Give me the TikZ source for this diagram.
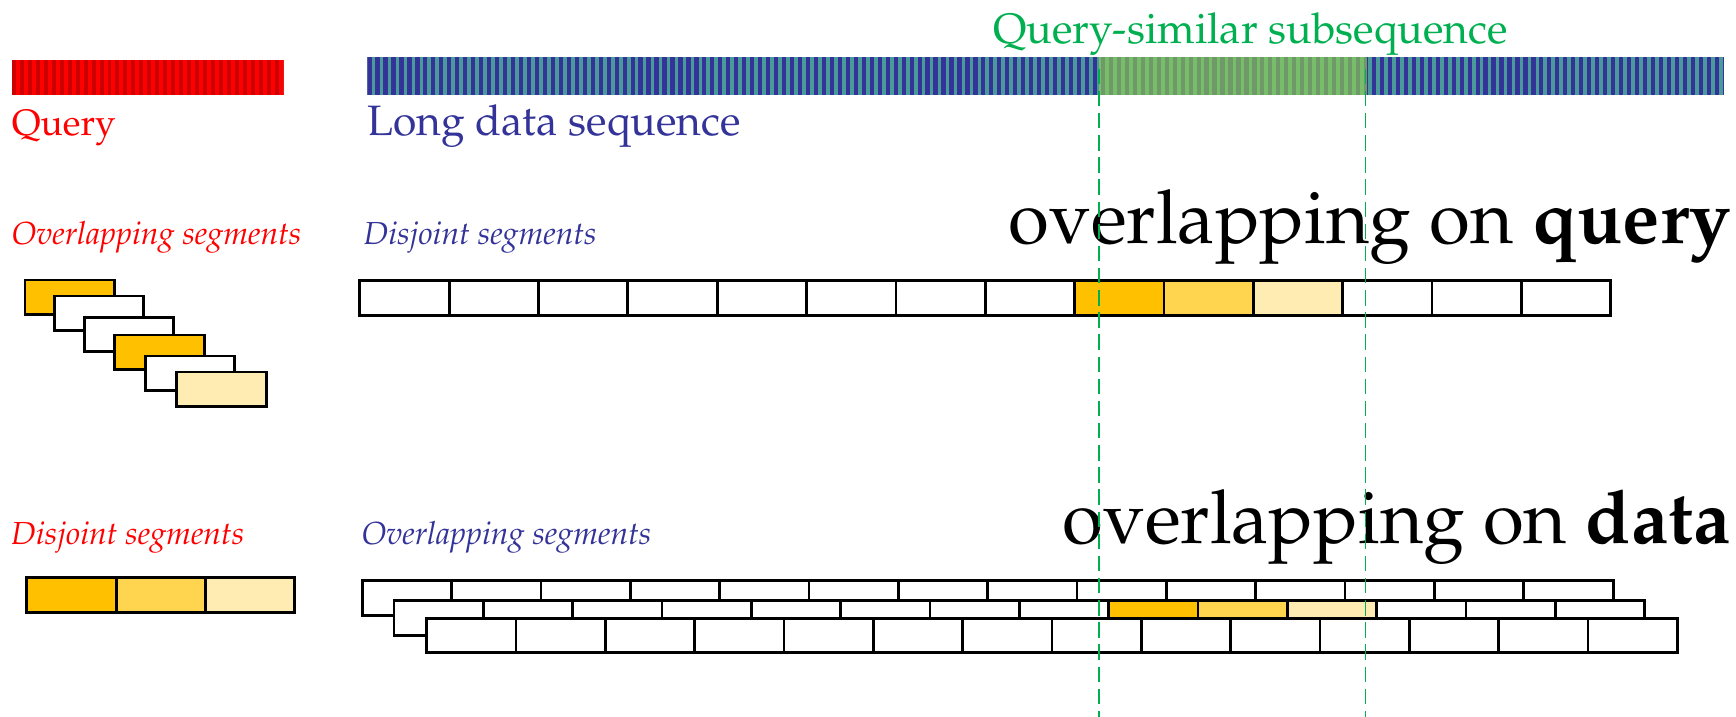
\documentclass[tikz,border=0pt]{standalone}
\usepackage[T1]{fontenc}
\usepackage{mathpazo}
\definecolor{qred}{HTML}{FF0000}
\definecolor{qdark}{HTML}{CC0000}
\definecolor{dblue}{HTML}{333399}
\definecolor{dteal}{HTML}{4A9A9A}
\definecolor{hgreen}{HTML}{92D050}
\definecolor{sgreen}{HTML}{00B050}
\definecolor{gold}{HTML}{FFC000}
\definecolor{goldmid}{HTML}{FFD54F}
\definecolor{goldlight}{HTML}{FFECB3}
\newcommand{\bigfnt}{\fontsize{33.6}{40}\selectfont}
\newcommand{\medfnt}{\fontsize{19.2}{23}\selectfont}
\newcommand{\qryfnt}{\fontsize{16.6}{20}\selectfont}
\newcommand{\smallitfnt}{\fontsize{14.4}{17}\selectfont\itshape}
\tikzset{
  segbox/.style={draw=black, line width=1.25pt, fill=white},
  label/.style={inner sep=0pt, outer sep=0pt},
  guide/.style={draw=sgreen, line width=0.8pt, dash pattern=on 7pt off 3pt}
}
\begin{document}
\begin{tikzpicture}[x=0.5pt, y=-0.5pt]
\useasboundingbox[fill=white] (0,0) rectangle (1568,647.6);

% striped query bar
\begin{scope}
  \clip (10.7,54.2) rectangle (256.2,85.8);
  \fill[qred] (10.7,54.2) rectangle (256.2,85.8);
  \foreach \i in {0,...,34} \fill[qdark] ({10.7+7.2*\i},54.2) rectangle ++(3.6,31.6);
\end{scope}

% striped long data bar
\begin{scope}
  \clip (331.9,51.2) rectangle (1557,85.8);
  \fill[dteal] (331.9,51.2) rectangle (1557,85.8);
  \foreach \i in {0,...,170} \fill[dblue] ({331.9+7.2*\i},51.2) rectangle ++(3.8,34.6);
\end{scope}

% highlighted similar part
\fill[hgreen, fill opacity=0.65] (992.4,51.2) rectangle (1235,85.8);

% labels
\node[label, anchor=base west, text=qred, font=\qryfnt] (query) at (10.7,122) {Query};
\node[label, anchor=base west, text=dblue, font=\medfnt] (longseq) at (332,122) {Long data sequence};
\node[label, anchor=base west, text=sgreen, font=\medfnt] (simlabel) at (897,39.1) {Query-similar subsequence};
\node[label, anchor=base west, text=qred, font=\smallitfnt] (qover) at (10.5,221) {Overlapping segments};
\node[label, anchor=base west, text=dblue, font=\smallitfnt] (ddisj) at (328.4,221) {Disjoint segments};
\node[label, anchor=base east, font=\bigfnt] (title1) at (1563,219.7) {overlapping on \textbf{query}};
\node[label, anchor=base west, text=qred, font=\smallitfnt] (qdisj) at (10.1,492) {Disjoint segments};
\node[label, anchor=base west, text=dblue, font=\smallitfnt] (dover) at (326.6,492) {Overlapping segments};
\node[label, anchor=base east, font=\bigfnt] (title2) at (1563,490.8) {overlapping on \textbf{data}};

% overlapping query segments (staircase)
\foreach \x/\y/\c in {22.5/253/gold, 49/267.4/white, 76/286.6/white, 103.7/302.6/gold, 131.4/321.6/white, 159.7/336/goldlight}
  \draw[segbox, fill=\c] (\x,\y) rectangle ++(80.7,31);

% disjoint data segments
\foreach \k in {0,...,13} {
  \pgfmathsetmacro{\xx}{325+80.7*\k}
  \ifnum\k=8 \def\cc{gold}\else\ifnum\k=9 \def\cc{goldmid}\else\ifnum\k=10 \def\cc{goldlight}\else\def\cc{white}\fi\fi\fi
  \draw[segbox, fill=\cc] (\xx,253.5) rectangle ++(80.7,31.5);
}

% disjoint query segments
\foreach \k/\c in {0/gold, 1/goldmid, 2/goldlight}
  \draw[segbox, fill=\c] ({24.2+80.7*\k},521.8) rectangle ++(80.7,31.2);

% overlapping data segments, three shifted rows
\foreach \k in {0,...,13}
  \draw[segbox] ({327.2+80.7*\k},524.5) rectangle ++(80.7,31.3);
\foreach \k in {0,...,13} {
  \ifnum\k=8 \def\cc{gold}\else\ifnum\k=9 \def\cc{goldmid}\else\ifnum\k=10 \def\cc{goldlight}\else\def\cc{white}\fi\fi\fi
  \draw[segbox, fill=\cc] ({355.8+80.7*\k},542.6) rectangle ++(80.7,31.3);
}
\foreach \k in {0,...,13}
  \draw[segbox] ({385.3+80.7*\k},558.9) rectangle ++(80.7,30.7);

% guide lines marking the similar subsequence
\coordinate (gl1) at (992.4,62);
\coordinate (gl1b) at (992.4,647.6);
\coordinate (gl2) at (1233.3,62);
\coordinate (gl2b) at (1233.3,647.6);
\draw[guide] (gl1) -- (gl1b);
\draw[guide] (gl2) -- (gl2b);
\end{tikzpicture}
\end{document}
